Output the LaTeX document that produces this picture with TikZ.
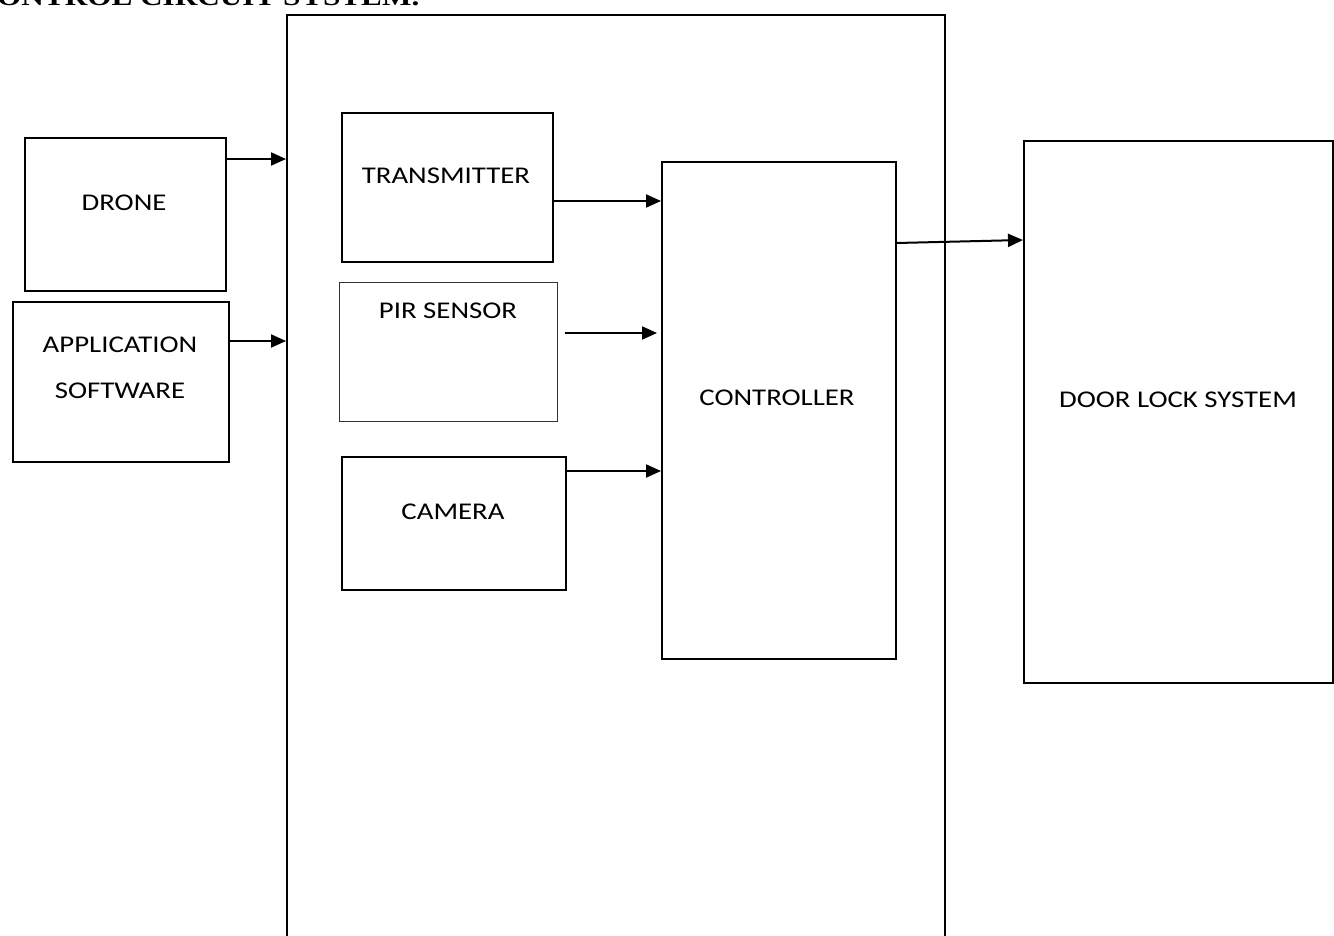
\documentclass[tikz,border=0pt]{standalone}
\usepackage{fontspec}
\setmainfont{Carlito}[FakeStretch=1.2]
\newfontfamily\titlefont{Liberation Serif}[FakeStretch=1.2]
\usetikzlibrary{arrows.meta}
\begin{document}
\begin{tikzpicture}[x=1pt,y=-1pt,
  box/.style={draw,line width=2pt,anchor=north west,inner sep=0pt},
  thinbox/.style={draw=black!80,line width=1pt,anchor=north west,inner sep=0pt},
  txt/.style={font=\fontsize{24}{29}\selectfont,inner sep=0pt},
  arr/.style={line width=2pt,-{Triangle[length=15pt,width=13pt]}}]
\useasboundingbox (0,0) rectangle (1334,936);
\clip (0,0) rectangle (1334,936);
% title (cut at top)
\node[anchor=base west,inner sep=0pt,font=\titlefont\bfseries\fontsize{26}{30}\selectfont] (title) at (-3,6) {ONTROL CIRCUIT SYSTEM.};
% boxes
\node[box,minimum width=658pt,minimum height=960pt] (big) at (286,14) {};
\node[box,minimum width=201pt,minimum height=153pt] (drone) at (24,137) {};
\node[box,minimum width=216pt,minimum height=160pt] (app) at (12,301) {};
\node[box,minimum width=211pt,minimum height=149pt] (trans) at (341,112) {};
\node[thinbox,minimum width=218pt,minimum height=139pt] (pir) at (339,282) {};
\node[box,minimum width=224pt,minimum height=133pt] (cam) at (341,456) {};
\node[box,minimum width=234pt,minimum height=497pt] (ctrl) at (661,161) {};
\node[box,minimum width=309pt,minimum height=542pt] (door) at (1023,140) {};
% texts
\node[txt] (dronet) at (124,203) {DRONE};
\node[txt] (appt1) at (120,345) {APPLICATION};
\node[txt] (appt2) at (120,391) {SOFTWARE};
\node[txt] (transt) at (446,176) {TRANSMITTER};
\node[txt] (pirt) at (448,311) {PIR SENSOR};
\node[txt] (camt) at (453,512) {CAMERA};
\node[txt] (ctrlt) at (777,398) {CONTROLLER};
\node[txt] (doort) at (1178,400) {DOOR LOCK SYSTEM};
% arrows
\draw[arr] (drone.east |- 0,159) -- (big.west |- 0,159);
\draw[arr] (app.east |- 0,341) -- (big.west |- 0,341);
\draw[arr] ([xshift=-2pt]trans.east |- 0,201) -- (ctrl.west |- 0,201);
\draw[arr] ([xshift=7pt]pir.east |- 0,333) -- ([xshift=-4pt]ctrl.west |- 0,333);
\draw[arr] (cam.east |- 0,471) -- (ctrl.west |- 0,471);
\draw[arr] (ctrl.east |- 0,243) -- (door.west |- 0,240);
\end{tikzpicture}
\end{document}
